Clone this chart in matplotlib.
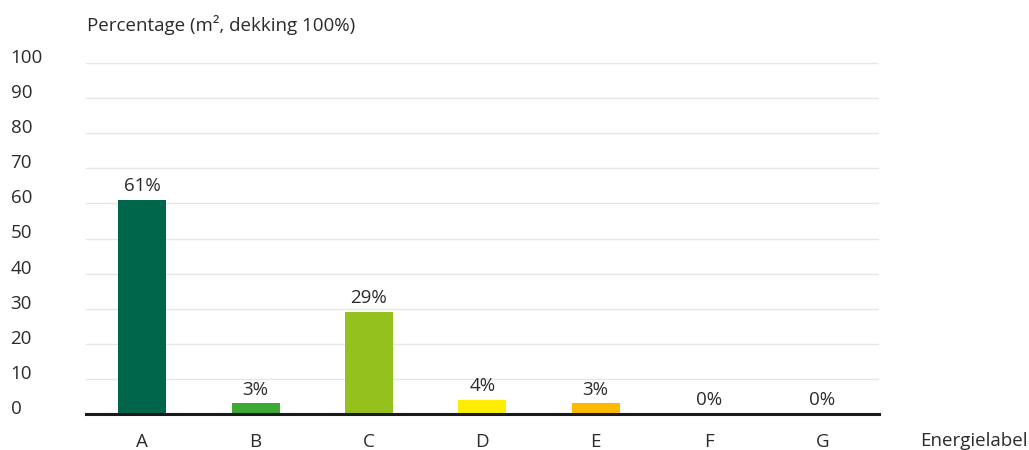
import matplotlib
matplotlib.use("Agg")
import matplotlib.pyplot as plt

# Energielabels en aandeel in vloeroppervlak (%)
labels = ["A", "B", "C", "D", "E", "F", "G"]
values = [61, 3, 29, 4, 3, 0, 0]
colors = ["#00664b", "#3aaa35", "#95c11f", "#ffed00", "#fbba00", "#e30613", "#be1622"]
yticks = [0, 10, 20, 30, 40, 50, 60, 70, 80, 90, 100]

plt.rcParams["font.family"] = ["Open Sans", "DejaVu Sans"]
text_color = "#2b2b2b"
fs = 13.5

fig = plt.figure(figsize=(10.29, 4.5), dpi=100)
ax = fig.add_axes([85.5 / 1029, 36 / 450, 793.5 / 1029, 351 / 450])

x = range(len(labels))
ax.bar(x, values, width=0.423, color=colors, zorder=2)

for xi, v in zip(x, values):
    ax.annotate(f"{v}%", (xi, v), xytext=(0, 3.5), textcoords="offset points",
                ha="center", va="bottom", fontsize=fs, color=text_color)

ax.set_xlim(-0.5, len(labels) - 0.5)
ax.set_ylim(0, 100)
ax.set_xticks(list(x))
ax.set_xticklabels(labels)
ax.set_yticks(yticks)

ax.grid(axis="y", color="#e6e6e6", linewidth=1, zorder=0)
ax.set_axisbelow(True)
for side in ["top", "right", "left"]:
    ax.spines[side].set_visible(False)
ax.spines["bottom"].set_color("#1a1a1a")
ax.spines["bottom"].set_linewidth(2.2)
ax.spines["bottom"].set_zorder(3)

ax.tick_params(axis="both", length=0, labelsize=fs, labelcolor=text_color)
ax.tick_params(axis="x", pad=13.5)
ax.tick_params(axis="y", pad=54)
for lab in ax.get_yticklabels():
    lab.set_ha("left")
    lab.set_va("baseline")

fig.text(87 / 1029, 1 - 25 / 450, "Percentage (m², dekking 100%)",
         ha="left", va="center", fontsize=fs, color=text_color)
fig.text(1028 / 1029, 1 - 441 / 450, "Energielabel",
         ha="right", va="center", fontsize=fs, color=text_color)

fig.savefig("out.png", dpi=100)
